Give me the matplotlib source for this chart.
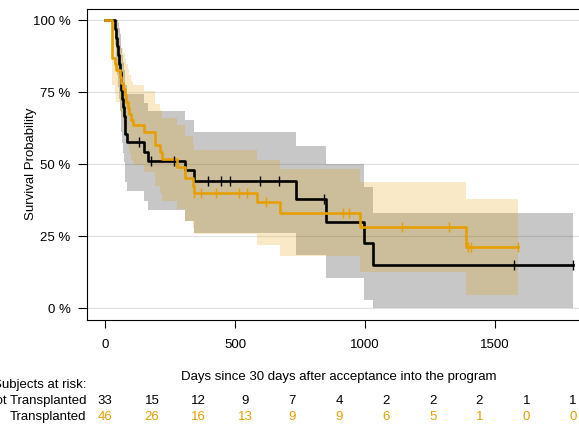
import numpy as np
import matplotlib
matplotlib.use('Agg')
import matplotlib.pyplot as plt
import matplotlib.transforms as mtransforms

# --- Kaplan-Meier steps ---
# Not Transplanted (black)
black_time = [0, 39, 42, 45, 49, 52, 55, 59, 62, 65, 69, 72, 75, 78, 82,
              150, 165, 308, 343, 735, 850, 994, 1032]
black_surv = [1.0, 0.970, 0.939, 0.909, 0.879, 0.848, 0.818, 0.788, 0.758, 0.727,
              0.697, 0.667, 0.636, 0.606, 0.576, 0.543, 0.512, 0.478, 0.4415,
              0.378, 0.300, 0.2255, 0.150]
black_lower = [1.0, 0.912, 0.857, 0.811, 0.768, 0.726, 0.686, 0.649, 0.612, 0.575,
               0.540, 0.506, 0.472, 0.439, 0.407, 0.373, 0.340, 0.304, 0.262,
               0.185, 0.104, 0.029, 0.0]
black_upper = [1.0, 1.0, 1.0, 1.0, 0.990, 0.971, 0.950, 0.927, 0.904, 0.879,
               0.854, 0.828, 0.800, 0.773, 0.745, 0.713, 0.684, 0.652, 0.6125,
               0.563, 0.500, 0.422, 0.330]
black_end = 1801
black_censor = [130, 178, 263, 397, 445, 481, 596, 670, 843, 1573, 1801]

# Transplanted (orange)
orange_time = [0, 28, 36, 40, 58, 62, 68, 75, 80, 86, 93, 100, 108, 150, 190,
               212, 218, 276, 308, 337, 340, 583, 673, 981, 1388]
orange_surv = [1.0, 0.870, 0.848, 0.826, 0.804, 0.783, 0.761, 0.739, 0.717, 0.696,
               0.674, 0.652, 0.636, 0.6125, 0.566, 0.543, 0.517, 0.491, 0.451,
               0.424, 0.401, 0.3676, 0.3317, 0.283, 0.2137]
orange_lower = [1.0, 0.773, 0.744, 0.716, 0.689, 0.664, 0.638, 0.612, 0.587, 0.563,
                0.539, 0.514, 0.497, 0.472, 0.423, 0.399, 0.373, 0.345, 0.303,
                0.278, 0.258, 0.2195, 0.1825, 0.127, 0.046]
orange_upper = [1.0, 0.967, 0.952, 0.936, 0.919, 0.902, 0.884, 0.866, 0.847, 0.829,
                0.809, 0.790, 0.775, 0.753, 0.709, 0.687, 0.661, 0.637, 0.599,
                0.570, 0.548, 0.514, 0.482, 0.439, 0.379]
orange_end = 1587
orange_censor = [340, 368, 426, 515, 545, 619, 915, 940, 1141, 1323, 1397, 1406, 1587]

# --- risk table ---
risk_times = [0, 180, 360, 540, 720, 900, 1080, 1260, 1440, 1620, 1800]
black_risk = [33, 15, 12, 9, 7, 4, 2, 2, 2, 1, 1]
orange_risk = [46, 26, 16, 13, 9, 9, 6, 5, 1, 0, 0]
group_names = ['Not Transplanted', 'Transplanted']

x_ticks = [0, 500, 1000, 1500]
y_ticks = [0, 0.25, 0.5, 0.75, 1.0]
y_ticklabels = ['0 %', '25 %', '50 %', '75 %', '100 %']

BLACK = '#000000'
ORANGE = '#E69F00'

plt.rcParams['font.family'] = ['Liberation Sans', 'DejaVu Sans']
plt.rcParams['font.size'] = 9.5

W, H = 579, 426
fig = plt.figure(figsize=(W / 100, H / 100), dpi=100)
# plot region: left spine at x=86.5, top at y=8.5, bottom at y=319.8 (right side cut off)
ax = fig.add_axes([86.5 / W, 1 - 319.8 / H, (591.7 - 86.5) / W, (319.8 - 8.5) / H])
ax.set_xlim(-72, 1872)
ax.set_ylim(-0.04, 1.04)

for yv in y_ticks:
    ax.axhline(yv, color='#e2e2e2', lw=0.9, zorder=0)


def draw_curve(t, s, lo, hi, end, cens, col):
    tt = np.append(t, end)
    ss = np.append(s, s[-1])
    ll = np.append(lo, lo[-1])
    uu = np.append(hi, hi[-1])
    ax.fill_between(tt, ll, uu, step='post', color=col, alpha=0.22, lw=0, zorder=1)
    ax.step(tt, ss, where='post', color=col, lw=1.9, zorder=3)
    idx = np.searchsorted(t, cens, side='right') - 1
    ax.plot(cens, np.array(s)[idx], ls='none', marker='|', ms=7, mew=1.0,
            color=col, zorder=4)


draw_curve(black_time, black_surv, black_lower, black_upper, black_end,
           black_censor, BLACK)
draw_curve(orange_time, orange_surv, orange_lower, orange_upper, orange_end,
           orange_censor, ORANGE)

ax.set_xticks(x_ticks)
ax.set_yticks(y_ticks)
ax.set_yticklabels(y_ticklabels)
ax.tick_params(axis='x', direction='out', length=6, width=0.8, pad=8, colors='black')
ax.tick_params(axis='y', direction='out', length=6.5, width=0.8, pad=5, colors='black')
for sp in ['left', 'top', 'bottom', 'right']:
    ax.spines[sp].set_linewidth(0.8)

fig.text(31 / W, 1 - 164 / H, 'Survival Probability', rotation=90,
         ha='center', va='center')
fig.text(339 / W, 1 - 377 / H, 'Days since 30 days after acceptance into the program',
         ha='center', va='center')

# number at risk table under the axis
trans = mtransforms.blended_transform_factory(ax.transData, fig.transFigure)
fig.text(86 / W, 1 - 385 / H, 'Subjects at risk:', ha='right', va='center')
rows = [(black_risk, BLACK, 401), (orange_risk, ORANGE, 417)]
for (vals, col, ypix), name in zip(rows, group_names):
    fig.text(86 / W, 1 - ypix / H, name, ha='right', va='center', color='black')
    for t, v in zip(risk_times, vals):
        ax.text(t, 1 - ypix / H, str(v), transform=trans, ha='center', va='center',
                color=col, clip_on=False)

fig.savefig('out.png', dpi=100)
